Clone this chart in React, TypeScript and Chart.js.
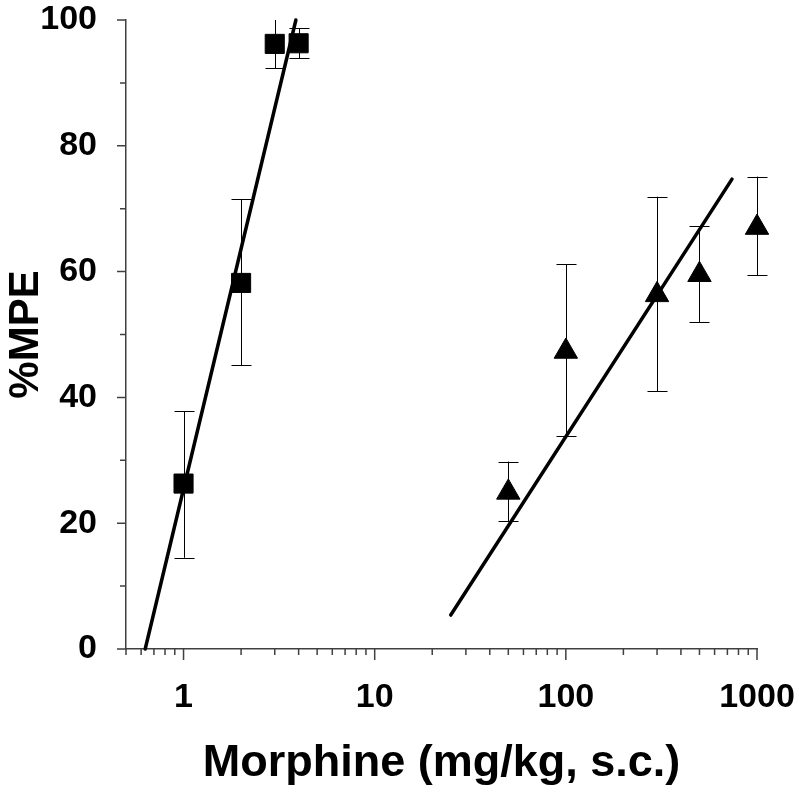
import React, { useEffect, useRef } from "react";
import { Chart, registerables } from "chart.js";

Chart.register(...registerables);

// Morphine dose (mg/kg) and %MPE — group 1 (squares)
const squareX = [1, 2, 3, 4];
const squareY = [26.3, 58.2, 96.2, 96.3];
const squareHi = [37.8, 71.5, 100.1, 98.7];
const squareLo = [14.5, 45.1, 92.3, 93.9];

// group 2 (triangles)
const triX = [50, 100, 300, 500, 1000];
const triY = [24.9, 47.3, 56.3, 59.5, 67.0];
const triHi = [29.8, 61.2, 71.9, 67.2, 75.1];
const triLo = [20.3, 33.8, 41.0, 52.0, 59.4];

// regression lines (end points)
const fit1X = [0.63, 3.87];
const fit1Y = [0, 100];
const fit2X = [25, 740];
const fit2Y = [5.4, 74.7];

// axes
const xTickValues = [
  0.5, 0.6, 0.7, 0.8, 0.9, 1, 2, 3, 4, 5, 6, 7, 8, 9, 10, 20, 30, 40, 50, 60, 70, 80, 90,
  100, 200, 300, 400, 500, 600, 700, 800, 900, 1000,
];
const xMajorTicks = [1, 10, 100, 1000];
const yMajorStep = 20;

const FONT = "'Liberation Sans', Arial, sans-serif";
const AXIS_COLOR = "#404040";

const overlayPlugin = {
  id: "overlay",
  beforeDatasetsDraw(chart: any) {
    const { ctx, chartArea } = chart;
    const xs = chart.scales.x;
    const ys = chart.scales.y;
    ctx.save();
    ctx.beginPath();
    ctx.rect(chartArea.left - 30, chartArea.top, chartArea.right - chartArea.left + 60, chartArea.bottom - chartArea.top);
    ctx.clip();
    ctx.strokeStyle = "#000";
    ctx.lineWidth = 1;
    const bars = (X: number[], hi: number[], lo: number[]) => {
      X.forEach((xv, i) => {
        const px = Math.round(xs.getPixelForValue(xv)) + 0.5;
        const pHi = ys.getPixelForValue(hi[i]);
        const pLo = ys.getPixelForValue(lo[i]);
        ctx.beginPath();
        ctx.moveTo(px, pHi);
        ctx.lineTo(px, pLo);
        ctx.moveTo(px - 10, Math.round(pHi) + 0.5);
        ctx.lineTo(px + 10, Math.round(pHi) + 0.5);
        ctx.moveTo(px - 10, Math.round(pLo) + 0.5);
        ctx.lineTo(px + 10, Math.round(pLo) + 0.5);
        ctx.stroke();
      });
    };
    bars(squareX, squareHi, squareLo);
    bars(triX, triHi, triLo);
    ctx.restore();
  },
  afterDraw(chart: any) {
    const { ctx, chartArea } = chart;
    const xs = chart.scales.x;
    const ys = chart.scales.y;
    ctx.save();
    ctx.strokeStyle = AXIS_COLOR;
    ctx.lineWidth = 1.5;
    ctx.beginPath();
    xs.ticks.forEach((t: any) => {
      const px = xs.getPixelForValue(t.value);
      const len = xMajorTicks.includes(t.value) ? 11 : 6;
      ctx.moveTo(px, chartArea.bottom);
      ctx.lineTo(px, chartArea.bottom + len);
    });
    ys.ticks.forEach((t: any) => {
      const py = ys.getPixelForValue(t.value);
      const len = t.value % yMajorStep === 0 ? 9 : 6;
      ctx.moveTo(chartArea.left, py);
      ctx.lineTo(chartArea.left - len, py);
    });
    ctx.stroke();
    ctx.restore();
  },
};

export default function App() {
  const ref = useRef<HTMLCanvasElement | null>(null);

  useEffect(() => {
    if (!ref.current) return;
    const chart = new Chart(ref.current, {
      type: "scatter",
      data: {
        datasets: [
          {
            label: "fit1",
            type: "line",
            data: fit1X.map((x, i) => ({ x, y: fit1Y[i] })),
            borderColor: "#000",
            borderWidth: 3.5,
            borderCapStyle: "round",
            pointRadius: 0,
            showLine: true,
            fill: false,
            clip: false,
          } as any,
          {
            label: "fit2",
            type: "line",
            data: fit2X.map((x, i) => ({ x, y: fit2Y[i] })),
            borderColor: "#000",
            borderWidth: 3.5,
            borderCapStyle: "round",
            pointRadius: 0,
            showLine: true,
            fill: false,
            clip: false,
          } as any,
          {
            label: "squares",
            data: squareX.map((x, i) => ({ x, y: squareY[i] })),
            pointStyle: "rect",
            pointRadius: 13.5,
            pointBackgroundColor: "#000",
            pointBorderColor: "#000",
            pointBorderWidth: 1,
            clip: false,
          } as any,
          {
            label: "triangles",
            data: triX.map((x, i) => ({ x, y: triY[i] })),
            pointStyle: "triangle",
            pointRadius: 13.5,
            pointBackgroundColor: "#000",
            pointBorderColor: "#000",
            pointBorderWidth: 1,
            clip: false,
          } as any,
        ],
      },
      options: {
        responsive: false,
        animation: false,
        devicePixelRatio: 1,
        layout: { padding: { top: 20, right: 43, left: 0, bottom: 0 } },
        plugins: {
          legend: { display: false },
          tooltip: { enabled: false },
        },
        scales: {
          x: {
            type: "logarithmic",
            position: "bottom",
            min: 0.5,
            max: 1000,
            afterBuildTicks: (scale: any) => {
              scale.ticks = xTickValues.map((v) => ({ value: v }));
            },
            afterFit: (scale: any) => {
              scale.height = 148;
              scale.paddingLeft = 0;
              scale.paddingRight = 0;
            },
            grid: { display: false, drawTicks: false },
            border: { display: true, color: AXIS_COLOR, width: 1.5 },
            ticks: {
              autoSkip: false,
              maxRotation: 0,
              minRotation: 0,
              padding: 28,
              color: "#000",
              font: { family: FONT, size: 34, weight: "bold" },
              callback: (v: any) => (xMajorTicks.includes(Number(v)) ? String(v) : ""),
            },
            title: {
              display: true,
              text: "Morphine (mg/kg, s.c.)",
              color: "#000",
              font: { family: FONT, size: 45, weight: "bold" },
              padding: { top: 0, bottom: 6 },
            },
          },
          y: {
            type: "linear",
            min: 0,
            max: 100,
            afterFit: (scale: any) => {
              scale.width = 126;
              scale.paddingTop = 0;
              scale.paddingBottom = 0;
            },
            grid: { display: false, drawTicks: false },
            border: { display: true, color: AXIS_COLOR, width: 1.5 },
            ticks: {
              stepSize: 10,
              autoSkip: false,
              padding: 29,
              color: "#000",
              font: { family: FONT, size: 34, weight: "bold", lineHeight: 1 },
              callback: (v: any) => (Number(v) % yMajorStep === 0 ? String(v) : ""),
            },
            title: {
              display: true,
              text: "%MPE",
              color: "#000",
              font: { family: FONT, size: 42, weight: "bold" },
              padding: { top: 1, bottom: 0 },
            },
          },
        },
      },
      plugins: [overlayPlugin],
    } as any);
    return () => chart.destroy();
  }, []);

  return (
    <div style={{ position: "absolute", left: 0, top: 0, width: 800, height: 797, background: "#fff" }}>
      <canvas ref={ref} width={800} height={797} style={{ display: "block" }} />
    </div>
  );
}
